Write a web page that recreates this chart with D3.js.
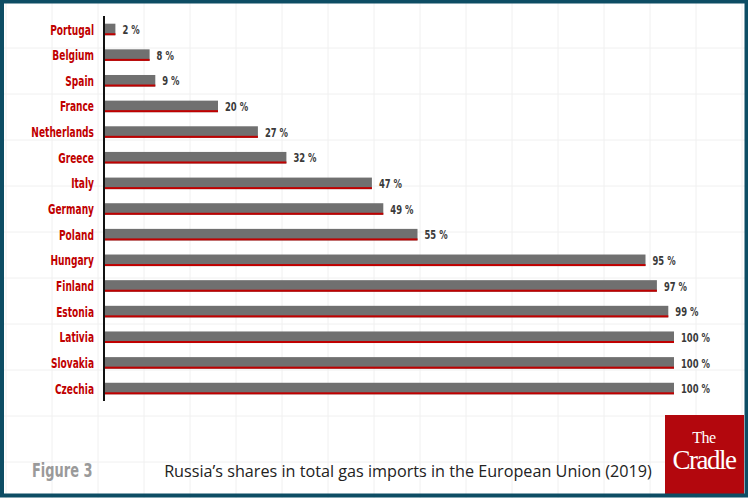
<!DOCTYPE html>
<html>
<head>
<meta charset="UTF-8" />
<title>Russia gas share</title>
<script src="https://d3js.org/d3.v7.min.js"></script>
<style>
  body { margin: 0; background: #fff; }
  svg { display: block; }
</style>
</head>
<body>
<svg id="chart" width="748" height="498"></svg>
<script>
// data
const countries = ["Portugal", "Belgium", "Spain", "France", "Netherlands", "Greece", "Italy",
  "Germany", "Poland", "Hungary", "Finland", "Estonia", "Lativia", "Slovakia", "Czechia"]
const shares = [2, 8, 9, 20, 27, 32, 47, 49, 55, 95, 97, 99, 100, 100, 100]

const W = 748, H = 498
const svg = d3.select("#chart")

const navy = "#0d4d64"
const barGray = "#707070"
const red = "#c00000"
const condensed = "'DejaVu Sans Condensed', 'DejaVu Sans', sans-serif"
const squeeze = 0.72   // narrow the glyphs to look like the poster's condensed face

// faint background grid
const grid = svg.append("g")
d3.range(6, W, 46).forEach(x => {
  grid.append("line").attr("x1", x).attr("x2", x).attr("y1", 0).attr("y2", H)
    .attr("stroke", "#f0f0f0").attr("stroke-width", 1)
})
d3.range(2, H, 46).forEach(y => {
  grid.append("line").attr("x1", 0).attr("x2", W).attr("y1", y).attr("y2", y)
    .attr("stroke", "#f0f0f0").attr("stroke-width", 1)
})

// scales
const x = d3.scaleLinear().domain([0, 100]).range([104, 674])
const y = d3.scaleBand().domain(countries).range([16, 402]).paddingInner(0.55).paddingOuter(0.3)

const rows = svg.append("g").selectAll("g.row")
  .data(countries.map((c, i) => ({ c, v: shares[i] })))
  .join("g").attr("class", "row")

rows.append("rect")
  .attr("x", x(0))
  .attr("y", d => y(d.c))
  .attr("width", d => x(d.v) - x(0))
  .attr("height", y.bandwidth())
  .attr("fill", barGray)

rows.append("rect")
  .attr("x", x(0))
  .attr("y", d => y(d.c) + y.bandwidth() - 2)
  .attr("width", d => x(d.v) - x(0))
  .attr("height", 2)
  .attr("fill", red)

rows.append("text")
  .attr("transform", d => `translate(94,${y(d.c) + y.bandwidth() / 2}) scale(${squeeze},1)`)
  .attr("dy", "0.36em")
  .attr("text-anchor", "end")
  .attr("font-family", condensed)
  .attr("font-weight", "bold")
  .attr("font-size", 14)
  .attr("fill", red)
  .text(d => d.c)

rows.append("text")
  .attr("transform", d => `translate(${x(d.v) + 7},${y(d.c) + y.bandwidth() / 2}) scale(${squeeze},1)`)
  .attr("dy", "0.36em")
  .attr("font-family", condensed)
  .attr("font-weight", "bold")
  .attr("font-size", 13)
  .attr("fill", "#3a3a3a")
  .text(d => d.v + " %")

// vertical axis line
svg.append("line")
  .attr("x1", x(0)).attr("x2", x(0))
  .attr("y1", 16).attr("y2", 401)
  .attr("stroke", "#111").attr("stroke-width", 2)

// footer
svg.append("text")
  .attr("transform", `translate(32,477) scale(${squeeze},1)`)
  .attr("font-family", condensed)
  .attr("font-weight", "bold")
  .attr("font-size", 20)
  .attr("fill", "#9a9a9a")
  .text("Figure 3")

svg.append("text")
  .attr("x", 408).attr("y", 477)
  .attr("text-anchor", "middle")
  .attr("font-family", "'Open Sans', sans-serif")
  .attr("font-size", 16.2)
  .attr("fill", "#222")
  .text("Russia\u2019s shares in total gas imports in the European Union (2019)")

// logo
svg.append("rect")
  .attr("x", 665).attr("y", 415).attr("width", 79).attr("height", 80)
  .attr("fill", "#b3070d")
svg.append("text")
  .attr("x", 704).attr("y", 443)
  .attr("text-anchor", "middle")
  .attr("font-family", "'Liberation Serif', 'DejaVu Serif', serif")
  .attr("font-size", 16)
  .attr("letter-spacing", -0.5)
  .attr("fill", "#fff")
  .text("The")
svg.append("text")
  .attr("x", 704).attr("y", 469)
  .attr("text-anchor", "middle")
  .attr("font-family", "'Liberation Serif', 'DejaVu Serif', serif")
  .attr("font-size", 27)
  .attr("letter-spacing", -1.5)
  .attr("fill", "#fff")
  .text("Cradle")

// frame
svg.append("rect")
  .attr("x", 2).attr("y", 1.5).attr("width", W - 3.5).attr("height", H - 4)
  .attr("fill", "none")
  .attr("stroke", navy)
  .attr("stroke-width", 4)
</script>
</body>
</html>
